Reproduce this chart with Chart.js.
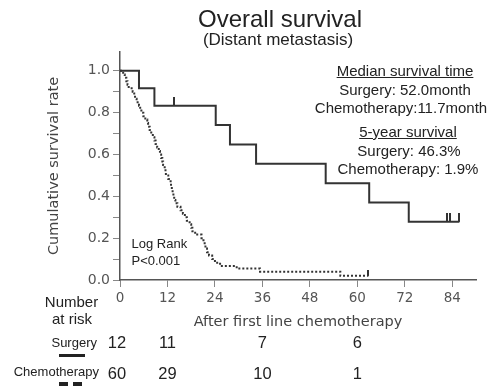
<!DOCTYPE html>
<html>
<head>
<meta charset="utf-8">
<script src="https://cdn.jsdelivr.net/npm/chart.js@4/dist/chart.umd.min.js"></script>
<style>
html,body{margin:0;padding:0;background:#fff;}
#wrap{position:relative;width:493px;height:386px;overflow:hidden;}
#cw{position:absolute;left:0;top:0;width:493px;height:386px;}
.t{position:absolute;white-space:nowrap;font-family:"Liberation Sans",Arial,sans-serif;color:#222;}
</style>
</head>
<body>
<div id="wrap">
  <div id="cw"><canvas id="c"></canvas></div>
</div>
<script>
// ---- data ----
const xTicks = [0, 12, 24, 36, 48, 60, 72, 84];
const yMajorTicks = [0, 0.2, 0.4, 0.6, 0.8, 1.0];
const yMinorTicks = [0.1, 0.3, 0.5, 0.7, 0.9];

const surgeryTime = [0, 4.8, 8.7, 24.2, 27.8, 34.4, 52.0, 63.0, 73.0, 85.8];
const surgerySurv = [1, 0.917, 0.833, 0.741, 0.648, 0.556, 0.463, 0.370, 0.278, 0.278];
const surgeryCensorTime = [13.6, 82.7, 83.4, 85.8];
const surgeryCensorSurv = [0.833, 0.278, 0.278, 0.278];

const chemoTime = [0,0.8,1.2,1.6,1.9,2.2,3.2,3.6,3.8,4.2,4.8,5.1,5.4,5.9,6.4,6.9,7.1,7.5,7.9,8.3,8.7,9.0,9.4,9.8,10.1,10.4,10.7,10.9,11.3,11.5,11.6,12.2,12.8,12.9,13.1,13.3,13.5,13.7,14.0,14.5,15.3,15.9,16.4,16.9,17.6,18.0,18.3,19.0,20.6,21.1,21.4,21.6,22.0,22.5,23.3,24.0,25.3,29.5,35.4,55.7,62.8];
const chemoSurv = [1,0.983,0.967,0.95,0.933,0.917,0.9,0.883,0.867,0.85,0.833,0.817,0.8,0.783,0.767,0.75,0.733,0.717,0.7,0.683,0.667,0.65,0.633,0.617,0.6,0.583,0.567,0.55,0.533,0.517,0.5,0.483,0.467,0.45,0.433,0.417,0.4,0.383,0.367,0.35,0.333,0.317,0.3,0.283,0.267,0.25,0.233,0.217,0.2,0.183,0.167,0.15,0.133,0.117,0.1,0.083,0.067,0.055,0.04,0.02,0.02];
const chemoCensorTime = [62.8];
const chemoCensorSurv = [0.02];

const riskTimes = [0, 12, 36, 60];
const surgeryAtRisk = [12, 11, 7, 6];
const chemoAtRisk = [60, 29, 10, 1];

const titleText = "Overall survival";
const subtitleText = "(Distant metastasis)";
const xTitle = "After first line chemotherapy";
const yTitle = "Cumulative survival rate";

// ---- helpers ----
function pts(xs, ys){ return xs.map((x,i)=>({x:x, y:ys[i]})); }
function censorMark(h){
  const c = document.createElement('canvas');
  c.width = 2; c.height = h*2;
  const g = c.getContext('2d');
  g.fillStyle = '#333';
  g.fillRect(0,0,2,h);
  return c;
}
const lineColor = '#333';

Chart.defaults.font.family = '"DejaVu Sans", Verdana, sans-serif';

const chart = new Chart(document.getElementById('c'), {
  type: 'line',
  data: {
    datasets: [
      { label:'Surgery', data: pts(surgeryTime, surgerySurv), stepped:'before',
        borderColor: lineColor, borderWidth: 2, pointRadius: 0, fill:false },
      { label:'Chemotherapy', data: pts(chemoTime, chemoSurv), stepped:'before',
        borderColor: lineColor, borderWidth: 2, borderDash:[2,2], pointRadius: 0, fill:false },
      { label:'Surgery censored', data: pts(surgeryCensorTime, surgeryCensorSurv), showLine:false,
        pointStyle: censorMark(9), pointRadius: 3 },
      { label:'Chemotherapy censored', data: pts(chemoCensorTime, chemoCensorSurv), showLine:false,
        pointStyle: censorMark(6), pointRadius: 3 }
    ]
  },
  options: {
    responsive: true, maintainAspectRatio: false, animation: false, devicePixelRatio: 1,
    layout: { padding: { left: 42, right: 17, top: 52, bottom: 55 } },
    plugins: { legend:{display:false}, title:{display:false}, tooltip:{enabled:false} },
    scales: {
      x: {
        type: 'linear', min: 0, max: 90,
        afterBuildTicks: s => { s.ticks = xTicks.map(v=>({value:v})); },
        afterFit: s => { s.height = 51; },
        grid: { drawOnChartArea:false, drawTicks:true, tickLength:7, color:'#888', lineWidth:1 },
        border: { display:true, color:'#555', width:1.5 },
        ticks: { color:'#555', font:{size:13.5}, padding:3, maxRotation:0, autoSkip:false },
        title: { display:true, text:xTitle, color:'#444', font:{size:14.5}, padding:{top:0,bottom:0} }
      },
      y: {
        type: 'linear', min: 0, max: 1.09,
        afterBuildTicks: s => { s.ticks = yMajorTicks.concat(yMinorTicks).sort((a,b)=>a-b).map(v=>({value:v})); },
        afterFit: s => { s.width = 78; },
        grid: { drawOnChartArea:false, drawTicks:true, tickLength:7, color:'#888', lineWidth:1 },
        border: { display:true, color:'#555', width:1.5 },
        ticks: { color:'#555', font:{size:14}, padding:3, autoSkip:false,
          callback: v => yMajorTicks.some(m => Math.abs(m - v) < 1e-6) ? v.toFixed(1) : '' },
        title: { display:true, text:yTitle, color:'#444', font:{size:14.5}, padding:{top:4,bottom:0} }
      }
    }
  }
});

// ---- text overlays ----
const wrap = document.getElementById('wrap');
function addText(txt, opts){
  const d = document.createElement('div');
  d.className = 't';
  d.textContent = txt;
  const sz = opts.size;
  d.style.fontSize = sz + 'px';
  d.style.lineHeight = sz + 'px';
  d.style.top = (opts.cy - sz*0.49) + 'px';
  if (opts.cx !== undefined) { d.style.left = opts.cx + 'px'; d.style.transform = 'translateX(-50%)'; }
  if (opts.left !== undefined) d.style.left = opts.left + 'px';
  if (opts.right !== undefined) d.style.right = (493 - opts.right) + 'px';
  if (opts.underline) d.style.textDecoration = 'underline';
  if (opts.color) d.style.color = opts.color;
  wrap.appendChild(d);
  return d;
}
addText(titleText, {cx:280, cy:19, size:24});
addText(subtitleText, {cx:278, cy:39.5, size:17});

addText("Median survival time", {cx:405, cy:70.5, size:15, underline:true});
addText("Surgery: 52.0month", {cx:405, cy:89, size:15});
addText("Chemotherapy:11.7month", {cx:401, cy:107.5, size:15});
addText("5-year survival", {cx:408, cy:131, size:15, underline:true});
addText("Surgery: 46.3%", {cx:409, cy:150.5, size:15});
addText("Chemotherapy: 1.9%", {cx:408, cy:168, size:15});

addText("Log Rank", {left:131.5, cy:243.5, size:13});
addText("P<0.001", {left:131.5, cy:260, size:13});

addText("Number", {cx:71.5, cy:301, size:15});
addText("at risk", {cx:72, cy:318, size:15});
addText("Surgery", {right:97, cy:342, size:13});
addText("Chemotherapy", {right:99, cy:371, size:13});

const xs = chart.scales.x;
riskTimes.forEach((t,i)=>{
  const px = xs.getPixelForValue(t);
  addText(String(surgeryAtRisk[i]), {cx:px - (i===0?3:0), cy:342, size:16.5});
  addText(String(chemoAtRisk[i]), {cx:px - (i===0?3:0), cy:373, size:16.5});
});

// legend marks for risk table
function bar(l,t,w,h){
  const d=document.createElement('div');
  d.style.cssText='position:absolute;background:#222;left:'+l+'px;top:'+t+'px;width:'+w+'px;height:'+h+'px;';
  wrap.appendChild(d);
}
bar(59,354,26,3);
bar(59,381.5,9,5);
bar(73,381.5,9,5);
</script>
</body>
</html>
